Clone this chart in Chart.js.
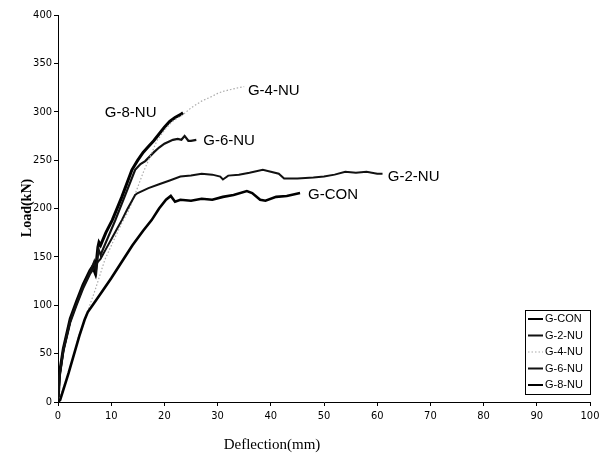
<!DOCTYPE html>
<html>
<head>
<meta charset="utf-8">
<script src="https://cdn.jsdelivr.net/npm/chart.js@4.4.1/dist/chart.umd.min.js"></script>
<style>
html,body{margin:0;padding:0;background:#fff;}
#wrap{width:610px;height:457px;position:relative;}
</style>
</head>
<body>
<div id="wrap"><canvas id="c" width="610" height="457"></canvas></div>
<script>
const xTicks = [0,10,20,30,40,50,60,70,80,90,100];
const yTicks = [0,50,100,150,200,250,300,350,400];
const seriesNames = ['G-CON','G-2-NU','G-4-NU','G-6-NU','G-8-NU'];

const conX = [0,0.4,2,4,5,5.6,6.5,8,10,12,14,16,17.6,19,20.3,21.2,22,23,25,27,29,31,33,35.5,36.5,38,39,41,43,45.5];
const conY = [0,2,30,68,85,93,100,112,128,145,162,177,188,200,209,213,207,209,208,210,209,212,214,218,216,209,208,212,213,216];

const nu2X = [0,0.3,1,2.3,3.5,4.7,6,7,7.5,8,9,10,11,12,13,14.5,15,17,19,21,23,25,27,29,30.5,31,32,34,36,38.5,40,41.5,42.5,45,48,50,52,54,56,58,60,61];
const nu2Y = [0,25,52,82,100,117,132,140,145,148,158,168,178,188,199,214,216,221,225,229,233,234,236,235,233,230,234,235,237,240,238,236,231,231,232,233,235,238,237,238,236,236];

const nu4X = [0,1,2,3.2,3.8,5,7,8.8,10.3,12,13.2,14.1,16,17.5,18.6,20,21.5,23.5,25,27,29,30,31,32.5,34,35];
const nu4Y = [0,15,30,52,67,85,116,147,165,185,197,209,237,256,270,281,290,297,304,311,316,319,321,323,325,326];

const nu6X = [0,0.3,1,2.3,3.5,4.7,6,6.8,7.2,7.6,8,9,10.7,12.5,14.5,15.5,16.4,18,19,20,21.6,22.5,23.2,23.8,24.5,25,26];
const nu6Y = [0,28,54,84,102,119,134,145,135,158,152,165,187,212,240,246,249,258,263,267,271,272,271,275,270,270,271];

const nu8X = [0,0.3,1,2.3,3.5,4.7,6,6.5,7,7.5,7.7,8,9,10.2,12,13.9,15,16,17,18,19,20,21,22,23,23.5];
const nu8Y = [0,30,55,86,104,121,136,140,133,160,165,162,175,188,212,240,250,258,264,270,277,284,290,294,297,299];

// curve label anchors (data coords)
const labelX = [47, 62, 35.7, 27.3, 8.8];
const labelY = [214, 232.6, 322, 270, 299];

function pts(xs, ys){ return xs.map((x,i)=>({x:x, y:ys[i]})); }

const styles = [
  {color:'#000', width:2.6, dash:[]},
  {color:'#111', width:2, dash:[]},
  {color:'#aaa', width:1.2, dash:[1.5,2]},
  {color:'#111', width:2.2, dash:[]},
  {color:'#000', width:3, dash:[]}
];
const dataArr = [pts(conX,conY), pts(nu2X,nu2Y), pts(nu4X,nu4Y), pts(nu6X,nu6Y), pts(nu8X,nu8Y)];

const datasets = seriesNames.map((n,i)=>({
  label:n, data:dataArr[i], showLine:true, pointRadius:0, borderColor:styles[i].color,
  borderWidth:styles[i].width, borderDash:styles[i].dash, tension:0, fill:false
}));

const overlay = {
  id:'overlay',
  afterDraw(chart){
    const ctx = chart.ctx, xs = chart.scales.x, ys = chart.scales.y;
    ctx.save();
    ctx.fillStyle = '#000';
    ctx.font = '15px "Liberation Sans", Arial, sans-serif';
    ctx.textBaseline = 'middle';
    ctx.textAlign = 'left';
    seriesNames.forEach((n,i)=>{
      ctx.fillText(n, xs.getPixelForValue(labelX[i]), ys.getPixelForValue(labelY[i]));
    });
    const bx = 525, by = 310, bw = 65, bh = 84;
    ctx.strokeStyle = '#000'; ctx.lineWidth = 1;
    ctx.strokeRect(bx+0.5, by+0.5, bw, bh);
    ctx.font = '11px "Liberation Sans Narrow", "Liberation Sans", Arial, sans-serif';
    seriesNames.forEach((n,i)=>{
      const yy = by + 9 + i*16.5;
      ctx.beginPath();
      ctx.strokeStyle = styles[i].color;
      ctx.lineWidth = Math.min(styles[i].width, 2);
      ctx.setLineDash(styles[i].dash);
      ctx.moveTo(bx+3, yy); ctx.lineTo(bx+18, yy); ctx.stroke();
      ctx.setLineDash([]);
      ctx.fillStyle = '#000';
      ctx.fillText(n, bx+20, yy);
    });
    ctx.fillStyle = '#000';
    ctx.font = '15px "Liberation Serif", "Times New Roman", serif';
    ctx.textAlign = 'center';
    ctx.fillText('Deflection(mm)', 272, 445);
    ctx.translate(27, 208);
    ctx.rotate(-Math.PI/2);
    ctx.font = 'bold 14px "Liberation Serif", "Times New Roman", serif';
    ctx.fillText('Load(kN)', 0, 0);
    ctx.restore();
  }
};

const tickFont = {family:'"Liberation Sans Narrow", "DejaVu Sans Condensed", sans-serif', size:11};

new Chart(document.getElementById('c'), {
  type:'scatter',
  data:{datasets:datasets},
  options:{
    responsive:false, animation:false,
    layout:{padding:{left:0,right:20,top:15,bottom:0}},
    plugins:{legend:{display:false}, tooltip:{enabled:false}, title:{display:false}},
    scales:{
      x:{type:'linear', min:0, max:100,
        afterBuildTicks(s){ s.ticks = xTicks.map(v=>({value:v})); },
        afterFit(s){ s.height = 55; },
        ticks:{color:'#000', font:tickFont, padding:4, maxRotation:0, autoSkip:false},
        grid:{drawOnChartArea:false, color:'#000', tickLength:4, tickColor:'#000'},
        border:{color:'#000', width:1}
      },
      y:{type:'linear', min:0, max:400,
        afterBuildTicks(s){ s.ticks = yTicks.map(v=>({value:v})); },
        afterFit(s){ s.width = 58; },
        ticks:{color:'#000', font:tickFont, padding:2, autoSkip:false},
        grid:{drawOnChartArea:false, color:'#000', tickLength:4, tickColor:'#000'},
        border:{color:'#000', width:1}
      }
    }
  },
  plugins:[overlay]
});
</script>
</body>
</html>
